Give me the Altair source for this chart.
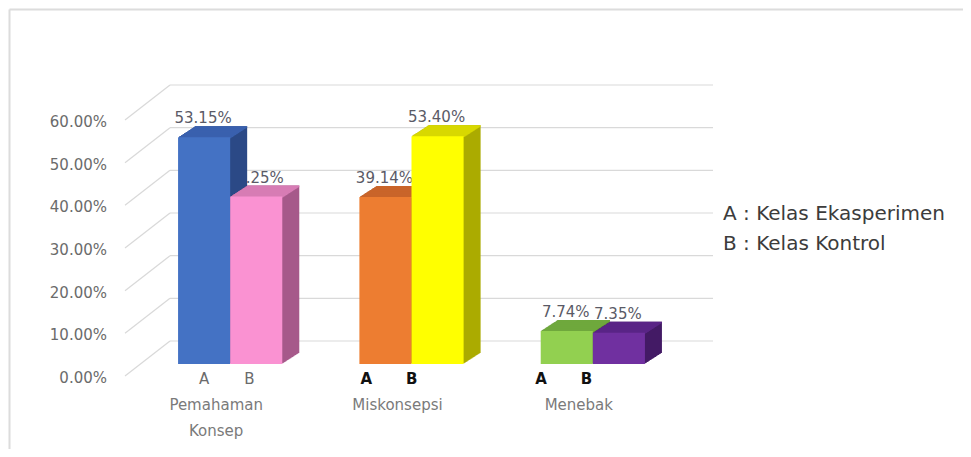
import altair as alt
import pandas as pd

# ---------------- data ----------------
categories = ["Pemahaman Konsep", "Miskonsepsi", "Menebak"]
groups = ["A", "B"]
values_A = [53.15, 39.14, 7.74]
values_B = [39.25, 53.40, 7.35]
labels_A = ["53.15%", "39.14%", "7.74%"]
labels_B = ["39.25%", "53.40%", "7.35%"]
y_ticks = [0, 10, 20, 30, 40, 50, 60]
y_tick_labels = ["0.00%", "10.00%", "20.00%", "30.00%", "40.00%", "50.00%", "60.00%"]
legend_lines = ["A : Kelas Ekasperimen", "B : Kelas Kontrol"]

# palette (order: cat x group)
front_colors = ["#4472C4", "#FA92D2", "#ED7D31", "#FFFF00", "#92D050", "#7030A0"]
top_colors = ["#3A60AE", "#D77DB5", "#C9652A", "#D8D800", "#6FA83C", "#5A2586"]
side_colors = ["#2C4A86", "#A65A8A", "#A9561F", "#ABAB00", "#5E8E34", "#441B66"]

rows = []
for i, c in enumerate(categories):
    rows.append({"cat": c, "g": "A", "v": values_A[i], "lbl": labels_A[i], "key": c + "|A"})
    rows.append({"cat": c, "g": "B", "v": values_B[i], "lbl": labels_B[i], "key": c + "|B"})
df = pd.DataFrame(rows)
keys = list(df["key"])

ticks_df = pd.DataFrame({"v": y_ticks, "lbl": y_tick_labels})
cat_df = pd.DataFrame({"cat": categories})
legend_df = pd.DataFrame({"t": [legend_lines]})

FONT = "DejaVu Sans"
GRID = "#d9d9d9"

X0, X1 = 131.5, 675.5


def xenc(shift=0.0):
    return alt.X(
        "cat:N",
        scale=alt.Scale(domain=categories, range=[X0 + shift, X1 + shift], paddingInner=0, paddingOuter=0),
        axis=None,
    )


X = xenc(0)
XO = alt.XOffset("g:N", scale=alt.Scale(type="band", domain=groups, paddingInner=0, paddingOuter=0.74))
XO_AB = alt.XOffset("g:N", scale=alt.Scale(type="band", domain=groups, paddingInner=0, paddingOuter=1))
y_scale = alt.Scale(domain=[0, 60], range=[356, 100], nice=False, zero=True)
Y = alt.Y("v:Q", scale=y_scale, axis=None)

layers = []

# back wall gridlines
layers.append(
    alt.Chart(ticks_df).mark_rule(color=GRID, strokeWidth=1.2, yOffset=-23).encode(
        x=alt.value(162), x2=alt.value(705), y=Y
    )
)
# floor/wall diagonals
layers.append(
    alt.Chart(ticks_df).mark_rule(color=GRID, strokeWidth=1.2, yOffset=12, y2Offset=-23).encode(
        x=alt.value(117), x2=alt.value(162), y=Y, y2=alt.Y2("v:Q")
    )
)
# y axis labels
layers.append(
    alt.Chart(ticks_df).mark_text(
        align="right", baseline="middle", dy=14, font=FONT, fontSize=15, color="#6b6b6b"
    ).encode(x=alt.value(99), y=Y, text="lbl:N")
)
# data labels (drawn first so the neighbouring bar's side can hide part of one)
layers.append(
    alt.Chart(df).mark_text(
        align="center", baseline="alphabetic", dy=-14, dx=-1, font=FONT, fontSize=15, color="#5a5a66"
    ).encode(x=X, xOffset=XO, y=Y, text="lbl:N")
)

N = 17
DX = 1.0
DY = 11.0 / 17.0


def col(rng):
    return alt.Color("key:N", scale=alt.Scale(domain=keys, range=rng), legend=None)


base = alt.Chart(df)
for k in range(N, 0, -1):
    layers.append(
        base.mark_bar(yOffset=-k * DY, y2Offset=-k * DY).encode(
            x=xenc(k * DX), xOffset=XO, y=Y, color=col(side_colors)
        )
    )
for k in range(N, 0, -1):
    layers.append(
        base.mark_bar(yOffset=-k * DY, y2Offset=-k * DY + 1.6).encode(
            x=xenc(k * DX), xOffset=XO, y=Y, y2=alt.Y2("v:Q"), color=col(top_colors)
        )
    )
layers.append(base.mark_bar().encode(x=X, xOffset=XO, y=Y, color=col(front_colors)))

# A / B labels under each pair
ab_shift = {"Pemahaman Konsep": (-3.5, "#6b6b6b", "normal"),
            "Miskonsepsi": (-22.5, "#111111", "bold"),
            "Menebak": (-29, "#111111", "bold")}
for c in categories:
    dxv, colr, fw = ab_shift[c]
    layers.append(
        alt.Chart(df).transform_filter(alt.datum.cat == c).mark_text(
            align="center", baseline="middle", dx=dxv, font=FONT, fontSize=15,
            color=colr, fontWeight=fw
        ).encode(x=X, xOffset=XO_AB, y=alt.value(371), text="g:N")
    )

# category labels
layers.append(
    alt.Chart(cat_df).transform_calculate(lines="split(datum.cat, ' ')").mark_text(
        align="center", baseline="middle", dx=-14, font=FONT, fontSize=15,
        color="#7a7a7a", lineHeight=26
    ).encode(x=X, y=alt.value(397), text="lines:N")
)

# legend text (two lines)
layers.append(
    alt.Chart(legend_df).mark_text(
        align="left", baseline="alphabetic", font=FONT, fontSize=20, color="#3c3c3c", lineHeight=30
    ).encode(x=alt.value(715), y=alt.value(212), text="t")
)

# frame (left & top edges)
frame_df = pd.DataFrame({"a": [0]})
layers.append(
    alt.Chart(frame_df).mark_rule(color="#dcdcdc", strokeWidth=2).encode(
        x=alt.value(1.5), y=alt.value(1.5), y2=alt.value(460)
    )
)
layers.append(
    alt.Chart(frame_df).mark_rule(color="#dcdcdc", strokeWidth=2).encode(
        x=alt.value(1.5), x2=alt.value(980), y=alt.value(1.5)
    )
)

chart = (
    alt.layer(*layers)
    .resolve_scale(color="independent", xOffset="independent", x="independent", y="shared")
    .properties(width=955, height=441, autosize="none", padding=0, background="white")
    .configure_view(stroke=None)
)

chart.save("out.html", embed_options={"renderer": "svg", "actions": False})
